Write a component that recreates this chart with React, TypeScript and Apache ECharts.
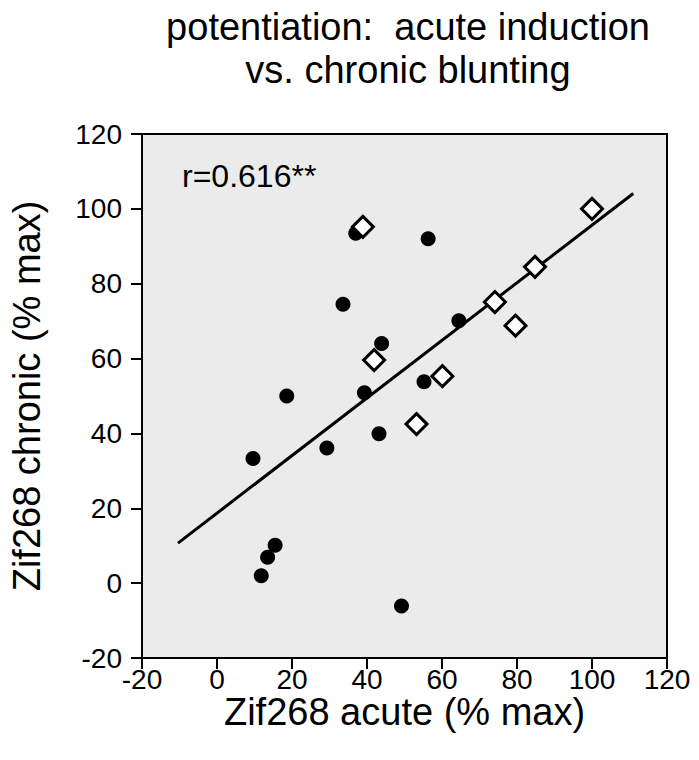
import React, { useEffect, useRef } from "react";
import * as echarts from "echarts";

const FONT = "'Liberation Sans', Arial, Helvetica, sans-serif";

const titleLines = ["potentiation:  acute induction", "vs. chronic blunting"];
const xAxisName = "Zif268 acute (% max)";
const yAxisName = "Zif268 chronic (% max)";
const annotation = "r=0.616**";

const axisMin = -20;
const axisMax = 120;
const axisStep = 20;

// filled circles
const circleX = [37.0, 33.6, 43.9, 18.6, 39.3, 56.3, 64.5, 55.2, 43.2, 29.3, 9.6, 15.5, 13.5, 11.8, 49.2];
const circleY = [93.5, 74.5, 64.0, 50.0, 50.9, 92.0, 70.1, 53.8, 39.9, 36.1, 33.3, 10.1, 6.9, 2.0, -6.1];

// open diamonds
const diamondX = [38.9, 41.9, 100.0, 84.8, 74.1, 79.6, 60.1, 53.2];
const diamondY = [95.2, 59.6, 100.0, 84.5, 75.1, 68.8, 55.3, 42.5];

// regression line end points
const fitX = [-10.4, 111.0];
const fitY = [10.7, 104.1];

export default function App() {
  const ref = useRef<HTMLDivElement>(null);

  useEffect(() => {
    if (!ref.current) return;
    const chart = echarts.init(ref.current, null, { renderer: "svg" });

    const zip = (xs: number[], ys: number[]) => xs.map((x, i) => [x, ys[i]]);

    const labelStyle = { fontFamily: FONT, fontSize: 28, color: "#000", showMinLabel: true, showMaxLabel: true };

    const axisCommon = {
      type: "value" as const,
      min: axisMin,
      max: axisMax,
      interval: axisStep,
      nameLocation: "middle" as const,
      nameMoveOverlap: false,
      axisLine: { show: true, onZero: false, lineStyle: { color: "#000", width: 2 } },
      axisTick: { show: true, inside: false, length: 11, lineStyle: { color: "#000", width: 2 } },
      splitLine: { show: false },
    };

    chart.setOption({
      animation: false,
      backgroundColor: "#fff",
      title: {
        text: titleLines.join("\n"),
        left: 403,
        top: 0,
        textAlign: "center",
        textStyle: { fontFamily: FONT, fontSize: 38, fontWeight: "normal", color: "#000", lineHeight: 43 },
      },
      grid: {
        left: 142,
        top: 134,
        width: 525,
        height: 524,
        show: true,
        backgroundColor: "#ebebeb",
        borderColor: "#000",
        borderWidth: 2,
      },
      xAxis: {
        ...axisCommon,
        name: xAxisName,
        nameGap: 45,
        nameTextStyle: { fontFamily: FONT, fontSize: 38, color: "#000", lineHeight: 18 },
        axisLabel: { ...labelStyle, margin: 13, lineHeight: 16 },
      },
      yAxis: {
        ...axisCommon,
        name: yAxisName,
        nameGap: 96,
        nameTextStyle: { fontFamily: FONT, fontSize: 38, color: "#000" },
        axisLabel: { ...labelStyle, margin: 20 },
      },
      graphic: [
        {
          type: "text",
          left: 182,
          top: 160,
          style: { text: annotation, fontFamily: FONT, fontSize: 32, fill: "#000" },
        },
      ],
      series: [
        {
          type: "scatter",
          data: zip(circleX, circleY),
          symbol: "circle",
          symbolSize: 15,
          itemStyle: { color: "#000", opacity: 1 },
          z: 2,
        },
        {
          type: "line",
          data: zip(fitX, fitY),
          showSymbol: false,
          symbol: "none",
          lineStyle: { color: "#000", width: 3 },
          z: 3,
        },
        {
          type: "scatter",
          data: zip(diamondX, diamondY),
          symbol: "diamond",
          symbolSize: 21,
          itemStyle: { color: "#fff", borderColor: "#000", borderWidth: 3, opacity: 1 },
          z: 4,
        },
      ],
    });

    return () => chart.dispose();
  }, []);

  return (
    <div
      ref={ref}
      style={{ position: "fixed", left: 0, top: 0, width: 699, height: 760 }}
    />
  );
}
